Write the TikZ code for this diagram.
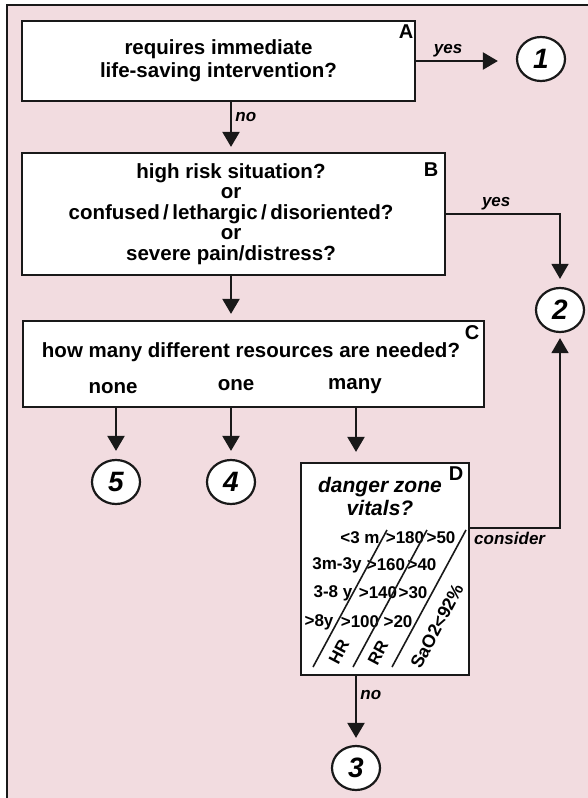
\documentclass[tikz,border=0pt]{standalone}
\usepackage{fontspec}
\setmainfont{Liberation Sans}
\usetikzlibrary{arrows.meta,shapes.geometric}
\definecolor{pinkbg}{RGB}{242,220,224}
\definecolor{darkline}{RGB}{25,25,25}
\begin{document}
\begin{tikzpicture}[x=1pt,y=-1pt,
  box/.style={draw=darkline, fill=white, line width=2.2pt, inner sep=0pt},
  boxtext/.style={align=center, font=\fontsize{20.5}{23}\selectfont\bfseries},
  corner/.style={font=\fontsize{20}{20}\selectfont\bfseries, inner sep=0pt},
  numcirc/.style={ellipse, draw=darkline, fill=white, line width=2.2pt, minimum width=48pt, minimum height=44pt, inner sep=0pt, font=\fontsize{28}{28}\selectfont\bfseries\itshape},
  lbl/.style={font=\fontsize{17}{17}\selectfont\bfseries\itshape},
  vital/.style={font=\fontsize{17}{17}\selectfont\bfseries, inner sep=0pt},
  arr/.style={-{Triangle[width=17pt,length=15pt]}, line width=2.2pt, draw=darkline},
  thinarr/.style={-{Triangle[width=17pt,length=15pt]}, line width=1.6pt, draw=darkline}]
  \useasboundingbox (0,0) rectangle (587,798);

%Ramme
  \fill[pinkbg] (7,5) rectangle (590,801);
  \draw[darkline, line width=1.5pt] (7,801) -- (7,5) -- (590,5);
  \coordinate (spine) at (231,0);

%Bokser
  \node[box, boxtext, minimum width=393pt, minimum height=80pt] (boxA) at (218.5,61)
    {requires immediate\\life-saving intervention?};
  \node[box, minimum width=423pt, minimum height=122pt] (boxB) at (233.5,214) {};
  \node[boxtext, font=\fontsize{20.5}{20.5}\selectfont\bfseries] (tB) at (231,214)
    {high risk situation?\\or\\confused\,/\,lethargic\,/\,disoriented?\\or\\severe pain/distress?};
  \node[box, minimum width=461pt, minimum height=86pt] (boxC) at (253.5,364) {};
  \node[boxtext] (tC) at (251,352) {how many different resources are needed?};
  \node[boxtext] (none) at (113,388) {none};
  \node[boxtext] (one) at (236,385) {one};
  \node[boxtext] (many) at (355,386) {many};
  \node[box, minimum width=168pt, minimum height=212pt] (boxD) at (385,569) {};
  \node[align=center, font=\fontsize{21}{23}\selectfont\bfseries\itshape] (tD) at (380,496)
    {danger zone\\vitals?};

%Bokstaver
  \node[corner] at (406,32) {A};
  \node[corner] at (431,170) {B};
  \node[corner] at (472,333) {C};
  \node[corner] at (456,474) {D};

%Vitale tegn
  \foreach \t/\x/\y in {{<3 m}/360/538, >180/405/538, >50/441/538,
                        3m-3y/337/565, >160/386/565, >40/422/565,
                        {3-8 y}/333/593, >140/378/593, >30/413/593,
                        >8y/319/622, >100/360/622, >20/398/622}
    \node[vital] at (\x,\y) {\t};
  \foreach \x in {387,427,466}
    \draw[darkline, line width=1.6pt] (\x,530) -- ++(-74,137);
  \node[vital, rotate=62] (hr) at (339,652) {HR};
  \node[vital, rotate=62] (rr) at (378,653) {RR};
  \node[vital, rotate=62, font=\fontsize{18}{18}\selectfont\bfseries] (sao) at (437,626) {SaO2<92\%};

%Sirkler
  \node[numcirc] (c1) at (541,59) {1};
  \node[numcirc] (c2) at (560,310) {2};
  \node[numcirc] (c3) at (356,768) {3};
  \node[numcirc] (c4) at (231,482) {4};
  \node[numcirc] (c5) at (116,482) {5};

%Piler
  \draw[arr, shorten >=18pt] (boxA.east) -- (boxA.east -| c1.west) node[lbl, pos=0.32, above] {yes};
  \draw[arr, shorten >=5pt] (boxA.south -| spine) -- (boxB.north -| spine) node[lbl, pos=0.3, right] {no};
  \draw[thinarr, shorten >=8pt] (boxB.east) -| (c2.north) node[lbl, pos=0.22, above] {yes};
  \draw[arr, shorten >=6pt] (boxB.south -| spine) -- (boxC.north -| spine);
  \foreach \c in {c5,c4}
    \draw[arr, shorten >=8pt] (boxC.south -| \c) -- (\c.north);
  \draw[arr, shorten >=10pt] (boxC.south -| c3) -- (boxD.north -| c3);
  \draw[arr, shorten >=7pt] (boxD.south -| c3) -- (c3.north) node[lbl, pos=0.28, right] {no};
  \draw[thinarr, shorten >=5pt] ([yshift=41pt]boxD.east) -| (c2.south) node[lbl, pos=0.22, below] {consider};
\end{tikzpicture}
\end{document}
